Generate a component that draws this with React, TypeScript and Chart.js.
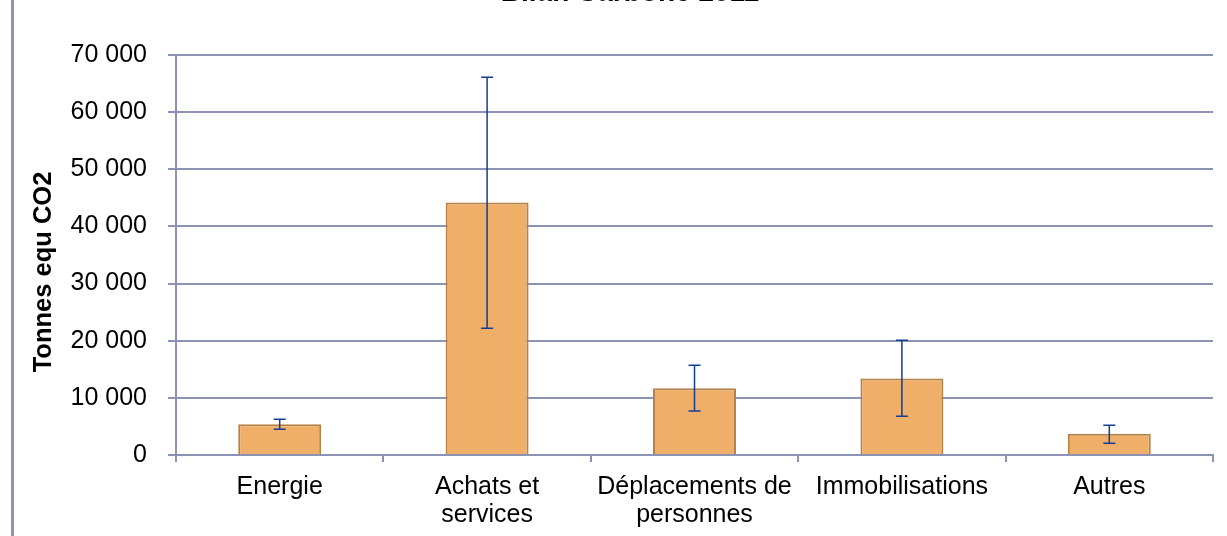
import React, { useEffect, useRef } from "react";
import { Chart, registerables } from "chart.js";

Chart.register(...registerables);

const categories: (string | string[])[] = [
  "Energie",
  ["Achats et", "services"],
  ["Déplacements de", "personnes"],
  "Immobilisations",
  "Autres",
];
const values = [5400, 44200, 11700, 13400, 3700];
const errLow = [4500, 22200, 7700, 6800, 2050];
const errHigh = [6250, 66100, 15700, 20100, 5200];
const yTicks = [0, 10000, 20000, 30000, 40000, 50000, 60000, 70000];
const titleText = "Bilan Carbone 2011";
const yTitle = "Tonnes equ CO2";

const fmt = (v: number) =>
  String(Math.round(v)).replace(/\B(?=(\d{3})+(?!\d))/g, " ");

const GRID = "#8C92B4";

const extras = {
  id: "extras",
  afterDatasetsDraw(chart: any) {
    const ctx = chart.ctx;
    const x = chart.scales.x;
    const y = chart.scales.y;
    ctx.save();
    ctx.strokeStyle = "#123F92";
    ctx.lineWidth = 1.5;
    for (let i = 0; i < values.length; i++) {
      const cx = x.getPixelForValue(i);
      const yl = y.getPixelForValue(errLow[i]);
      const yh = y.getPixelForValue(errHigh[i]);
      ctx.beginPath();
      ctx.moveTo(cx, yl);
      ctx.lineTo(cx, yh);
      ctx.moveTo(cx - 6, yl);
      ctx.lineTo(cx + 6, yl);
      ctx.moveTo(cx - 6, yh);
      ctx.lineTo(cx + 6, yh);
      ctx.stroke();
    }
    ctx.restore();
  },
  afterDraw(chart: any) {
    const ctx = chart.ctx;
    ctx.save();
    ctx.fillStyle = GRID;
    ctx.fillRect(11, 0, 3, chart.height);
    ctx.fillStyle = "#000";
    ctx.font = "bold 25.5px 'Liberation Sans', Arial, sans-serif";
    ctx.textAlign = "center";
    ctx.textBaseline = "middle";
    ctx.translate(44, 272);
    ctx.rotate(-Math.PI / 2);
    ctx.fillText(yTitle, 0, 0);
    ctx.restore();
    ctx.save();
    ctx.fillStyle = "#000";
    ctx.font = "bold 28px 'Liberation Sans', Arial, sans-serif";
    ctx.textAlign = "center";
    ctx.textBaseline = "alphabetic";
    ctx.fillText(titleText, 630, 0.5);
    ctx.restore();
  },
};

export default function App() {
  const ref = useRef<HTMLCanvasElement | null>(null);
  useEffect(() => {
    if (!ref.current) return;
    const chart = new Chart(ref.current, {
      type: "bar",
      data: {
        labels: categories,
        datasets: [
          {
            data: values,
            backgroundColor: "#F0AF69",
            borderColor: "#B3824A",
            borderWidth: 2,
            borderSkipped: "bottom",
            barPercentage: 0.4,
            categoryPercentage: 1,
          },
        ],
      },
      options: {
        responsive: false,
        animation: false,
        layout: { padding: { top: 55, right: 14, left: 0, bottom: 0 } },
        plugins: { legend: { display: false }, tooltip: { enabled: false }, title: { display: false } },
        scales: {
          x: {
            offset: true,
            grid: {
              offset: true,
              drawOnChartArea: false,
              drawTicks: true,
              tickLength: 7,
              color: GRID,
              lineWidth: 2,
            },
            border: { display: true, color: GRID, width: 2 },
            ticks: {
              color: "#000",
              font: { family: "'Liberation Sans', Arial, sans-serif", size: 25, lineHeight: 1.12 },
              padding: 11,
              maxRotation: 0,
              autoSkip: false,
            },
            afterFit(scale: any) {
              scale.height = 81;
            },
          },
          y: {
            min: 0,
            max: 70000,
            afterBuildTicks(scale: any) {
              scale.ticks = yTicks.map((v) => ({ value: v }));
            },
            grid: { color: GRID, lineWidth: 2, tickLength: 8 },
            border: { display: true, color: GRID, width: 2 },
            ticks: {
              color: "#000",
              font: { family: "'Liberation Sans', Arial, sans-serif", size: 25 },
              padding: 21,
              callback: (v: any) => fmt(Number(v)),
            },
            afterFit(scale: any) {
              scale.width = 176;
            },
          },
        },
      },
      plugins: [extras],
    });
    return () => chart.destroy();
  }, []);
  return (
    <canvas
      ref={ref}
      width={1227}
      height={536}
      style={{ position: "fixed", left: 0, top: 0, width: 1227, height: 536, background: "#fff" }}
    />
  );
}
